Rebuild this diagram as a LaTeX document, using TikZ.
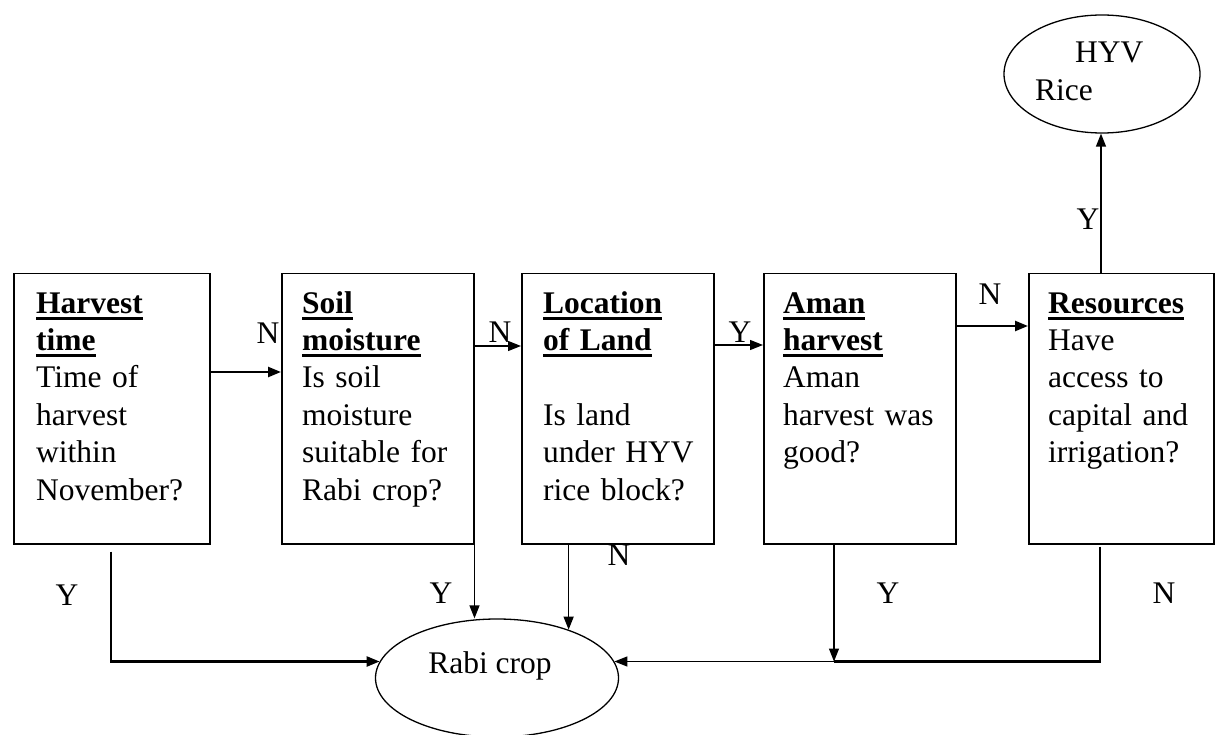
\documentclass[tikz,border=0pt]{standalone}
\usepackage{fontspec}
\setmainfont{Liberation Serif}
\usetikzlibrary{shapes.geometric,arrows.meta}
\newcommand{\tul}[1]{\leavevmode\setbox0=\hbox{#1}\rlap{\rule[-6.5pt]{\wd0}{2.6pt}}\box0}
\tikzset{
  box/.style={draw, line width=1.5pt, rectangle, inner sep=0pt, anchor=north west},
  txt/.style={inner sep=0pt, anchor=base west, text width=200pt, align=left,
    font=\fontsize{31.5}{37.4}\selectfont},
  lbl/.style={inner sep=0pt, anchor=base, font=\fontsize{31.5}{37.4}\selectfont},
  oval/.style={draw, ellipse, line width=1.3pt, inner sep=0pt},
  thickarr/.style={line width=2.4pt, -{Triangle[length=13pt,width=10pt]}},
  thinarr/.style={line width=1.3pt, -{Triangle[length=13pt,width=10pt]}},
  thickline/.style={line width=2.4pt},
}
\begin{document}
\begin{tikzpicture}[x=1pt,y=-1pt]
\useasboundingbox (0,0) rectangle (1215,735);
% boxes
\node[box, minimum width=196pt, minimum height=270pt] (b1) at (13,273) {};
\node[box, minimum width=192pt, minimum height=270pt] (b2) at (281,273) {};
\node[box, minimum width=192pt, minimum height=270pt] (b3) at (521,273) {};
\node[box, minimum width=192pt, minimum height=270pt] (b4) at (763,273) {};
\node[box, minimum width=185pt, minimum height=270pt] (b5) at (1028,273) {};
% box texts
\node[txt] (t1) at (36,313) {\tul{\textbf{Harvest}}\\ \tul{\textbf{time}}\\ Time of\\ harvest\\ within\\ November?};
\node[txt] (t2) at (302,313) {\tul{\textbf{Soil}}\\ \tul{\textbf{moisture}}\\ Is soil\\ moisture\\ suitable for\\ Rabi crop?};
\node[txt] (t3) at (543,313) {\tul{\textbf{Location}}\\ \tul{\textbf{of Land}}\\[37.4pt] Is land\\ under HYV\\ rice block?};
\node[txt] (t4) at (783,313) {\tul{\textbf{Aman}}\\ \tul{\textbf{harvest}}\\ Aman\\ harvest was\\ good?};
\node[txt] (t5) at (1048,313) {\tul{\textbf{Resources}}\\ Have\\ access to\\ capital and\\ irrigation?};
% ellipses
\node[oval, minimum width=196pt, minimum height=118pt] (hyv) at (1102,74) {};
\node[txt] (thyv) at (1035,63) {\hspace{40pt}HYV\\ Rice};
\node[oval, minimum width=243pt, minimum height=118pt] (rabi) at (497,678) {};
\node[lbl] (trabi) at (490,673) {Rabi crop};
% horizontal connectors
\draw[thickarr] (b1.east |- 0,372) -- (b2.west |- 0,372);
\draw[thinarr] (b2.east |- 0,346) -- (b3.west |- 0,346);
\draw[thinarr] (b3.east |- 0,345) -- (b4.west |- 0,345);
\draw[thickarr] (b4.east |- 0,326) -- (b5.west |- 0,326);
\draw[thinarr] (b5.north -| 1101,0) -- (hyv.south -| 1101,0);
% down connectors
\draw[thickarr, shorten <=7pt] (b1.south -| 111,0) |- (rabi.172);
\draw[thinarr] (b2.south east) -- (b2.south east |- rabi.north);
\draw[thinarr] (rabi.34 |- b3.south) -- (rabi.34);
\coordinate (j) at (rabi.8 -| 834,0);
\draw[thickline, shorten <=2pt] (b5.south -| 1100,0) |- (j);
\draw[thinarr] (b4.south -| j) -- (j);
\draw[thinarr] (j) -- (rabi.8);
% labels
\node[lbl] (l1) at (268,343) {N};
\node[lbl] (l2) at (500,342) {N};
\node[lbl] (l3) at (740,342) {Y};
\node[lbl] (l4) at (990,305) {N};
\node[lbl] (l5) at (1088,230) {Y};
\node[lbl] (l6) at (67,605) {Y};
\node[lbl] (l7) at (441,603) {Y};
\node[lbl] (l8) at (619,565) {N};
\node[lbl] (l9) at (888,603) {Y};
\node[lbl] (l10) at (1164,603) {N};
\end{tikzpicture}
\end{document}
